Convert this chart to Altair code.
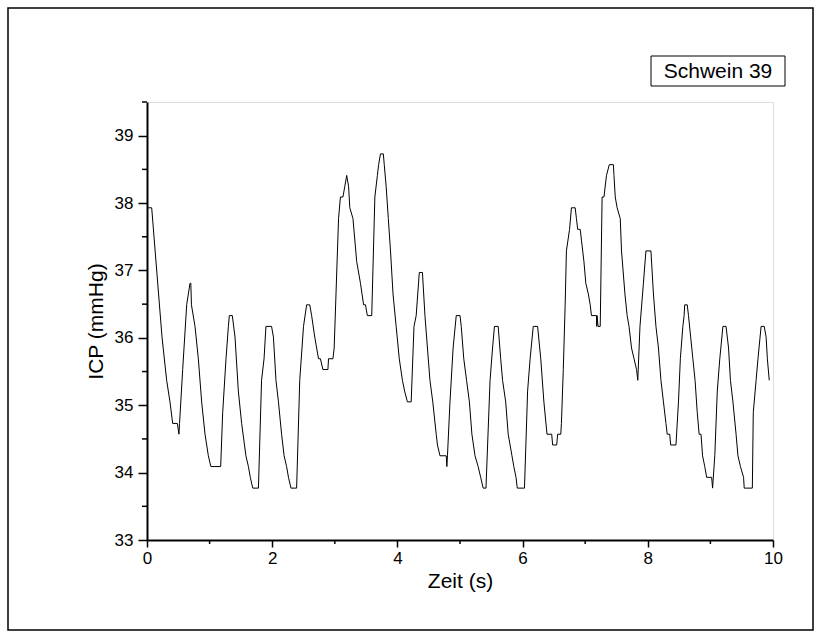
import altair as alt
import pandas as pd

# ---- data ----
time_s = [0.0, 0.075, 0.24, 0.314, 0.367, 0.41, 0.485, 0.51, 0.52, 0.57, 0.634, 0.687, 0.70, 0.71,
          0.767, 0.82, 0.873, 0.927, 0.98, 1.02, 1.177, 1.209, 1.262, 1.30, 1.315, 1.363, 1.406,
          1.459, 1.512, 1.58, 1.62, 1.65, 1.69, 1.78, 1.83, 1.87, 1.90, 1.99, 2.02, 2.06, 2.10,
          2.15, 2.19, 2.23, 2.26, 2.30, 2.39, 2.44, 2.50, 2.55, 2.60, 2.63, 2.68, 2.74, 2.77,
          2.81, 2.89, 2.90, 2.97, 2.99, 3.06, 3.09, 3.13, 3.16, 3.19, 3.22, 3.24, 3.29, 3.35,
          3.41, 3.46, 3.49, 3.52, 3.59, 3.64, 3.68, 3.70, 3.73, 3.775, 3.79, 3.82, 3.855, 3.89,
          3.93, 3.98, 4.03, 4.08, 4.115, 4.16, 4.22, 4.265, 4.30, 4.35, 4.40, 4.44, 4.48, 4.52,
          4.565, 4.62, 4.64, 4.68, 4.78, 4.79, 4.80, 4.84, 4.89, 4.94, 5.00, 5.02, 5.06, 5.105,
          5.15, 5.19, 5.24, 5.29, 5.33, 5.37, 5.415, 5.48, 5.52, 5.55, 5.61, 5.65, 5.68, 5.73,
          5.77, 5.83, 5.86, 5.895, 5.915, 6.03, 6.08, 6.12, 6.17, 6.24, 6.29, 6.34, 6.39, 6.465,
          6.48, 6.545, 6.56, 6.61, 6.62, 6.65, 6.68, 6.70, 6.75, 6.78, 6.84, 6.86, 6.88, 6.92,
          6.94, 6.98, 7.01, 7.05, 7.08, 7.10, 7.18, 7.185, 7.19, 7.205, 7.24, 7.27, 7.30, 7.34,
          7.385, 7.45, 7.46, 7.48, 7.51, 7.56, 7.58, 7.635, 7.67, 7.70, 7.74, 7.78, 7.82, 7.84,
          7.875, 7.93, 7.97, 8.05, 8.09, 8.13, 8.17, 8.21, 8.25, 8.29, 8.31, 8.35, 8.365, 8.45,
          8.49, 8.52, 8.56, 8.58, 8.59, 8.63, 8.65, 8.685, 8.72, 8.755, 8.79, 8.82, 8.85, 8.875,
          8.91, 8.94, 9.02, 9.035, 9.07, 9.11, 9.15, 9.20, 9.25, 9.29, 9.32, 9.36, 9.41, 9.44,
          9.48, 9.53, 9.54, 9.67, 9.685, 9.73, 9.76, 9.81, 9.86, 9.89, 9.91, 9.94]
icp_mmhg = [37.93, 37.93, 36.01, 35.37, 35.05, 34.73, 34.73, 34.57, 34.73, 35.53, 36.49, 36.81, 36.81, 36.49,
            36.17, 35.69, 35.05, 34.57, 34.25, 34.09, 34.09, 34.89, 35.69, 36.17, 36.33, 36.33, 36.01,
            35.21, 34.73, 34.25, 34.09, 33.93, 33.77, 33.77, 35.37, 35.69, 36.17, 36.17, 36.01, 35.37, 35.05,
            34.57, 34.25, 34.09, 33.93, 33.77, 33.77, 35.37, 36.17, 36.49, 36.49, 36.33, 36.01, 35.69, 35.69,
            35.53, 35.53, 35.69, 35.69, 35.85, 37.77, 38.09, 38.09, 38.25, 38.41, 38.25, 37.93, 37.77, 37.13,
            36.81, 36.49, 36.49, 36.33, 36.33, 38.09, 38.41, 38.57, 38.73, 38.73, 38.57, 38.25, 37.77, 37.29,
            36.65, 36.17, 35.69, 35.37, 35.21, 35.05, 35.05, 36.17, 36.33, 36.97, 36.97, 36.33, 35.85, 35.37,
            35.05, 34.57, 34.41, 34.25, 34.25, 34.09, 34.25, 35.05, 35.85, 36.33, 36.33, 36.17, 35.69, 35.37,
            35.05, 34.57, 34.25, 34.09, 33.93, 33.77, 33.77, 35.37, 35.85, 36.17, 36.17, 35.69, 35.37, 35.05,
            34.57, 34.25, 34.09, 33.93, 33.77, 33.77, 35.21, 35.69, 36.17, 36.17, 35.69, 35.05, 34.57, 34.57,
            34.41, 34.41, 34.57, 34.57, 34.73, 35.53, 36.49, 37.29, 37.61, 37.93, 37.93, 37.77, 37.61, 37.61,
            37.45, 37.13, 36.81, 36.65, 36.49, 36.33, 36.33, 36.17, 36.33, 36.17, 36.17, 38.09, 38.09, 38.41,
            38.57, 38.57, 38.41, 38.09, 37.93, 37.77, 37.29, 36.65, 36.33, 36.17, 35.85, 35.69, 35.53, 35.37,
            36.17, 36.81, 37.29, 37.29, 36.65, 36.17, 35.85, 35.37, 35.05, 34.73, 34.57, 34.57, 34.41, 34.41,
            35.05, 35.69, 36.17, 36.33, 36.49, 36.49, 36.33, 36.01, 35.69, 35.37, 34.89, 34.57, 34.57, 34.25,
            34.09, 33.93, 33.93, 33.77, 34.25, 35.21, 35.69, 36.17, 36.17, 35.85, 35.37, 35.05, 34.57, 34.25,
            34.09, 33.93, 33.77, 33.77, 34.89, 35.37, 35.69, 36.17, 36.17, 36.01, 35.69, 35.37]

x_major_ticks = [0, 2, 4, 6, 8, 10]
x_minor_ticks = [1, 3, 5, 7, 9]
y_major_ticks = [33, 34, 35, 36, 37, 38, 39]
y_minor_ticks = [33.5, 34.5, 35.5, 36.5, 37.5, 38.5, 39.5]
legend_label = "Schwein 39"
x_title = "Zeit (s)"
y_title = "ICP (mmHg)"

FONT = "Liberation Sans"
W, H = 626, 438

df = pd.DataFrame({"t": time_s, "v": icp_mmhg})

xscale = alt.Scale(domain=[0, 10], nice=False, zero=False)
yscale = alt.Scale(domain=[33, 39.5], nice=False, zero=False)

line = alt.Chart(df).mark_line(color="black", strokeWidth=1).encode(
    x=alt.X("t:Q", scale=xscale, title=x_title,
            axis=alt.Axis(values=x_major_ticks, format="d", labelFlush=False,
                          tickSize=7, tickWidth=1.5, domainWidth=2,
                          domainColor="black", tickColor="black", labelColor="black",
                          labelFont=FONT, labelFontSize=17, labelPadding=3,
                          titleFont=FONT, titleFontSize=21, titleFontWeight="normal",
                          titleColor="black", titlePadding=4, grid=False)),
    y=alt.Y("v:Q", scale=yscale, title=y_title,
            axis=alt.Axis(values=y_major_ticks, format="d", labelFlush=False,
                          tickSize=9, tickWidth=1.5, domainWidth=2,
                          domainColor="black", tickColor="black", labelColor="black",
                          labelFont=FONT, labelFontSize=17, labelPadding=5,
                          titleFont=FONT, titleFontSize=21, titleFontWeight="normal",
                          titleColor="black", titlePadding=8, grid=False)),
)

xminor = alt.Chart(pd.DataFrame({"t": x_minor_ticks})).mark_rule(
    color="black", strokeWidth=1.5).encode(
    x=alt.X("t:Q", scale=xscale), y=alt.value(H), y2=alt.value(H + 4))

yminor = alt.Chart(pd.DataFrame({"v": y_minor_ticks})).mark_rule(
    color="black", strokeWidth=1.5).encode(
    y=alt.Y("v:Q", scale=yscale), x=alt.value(-5), x2=alt.value(0))

one = pd.DataFrame({"label": [legend_label]})
frame = alt.Chart(one).mark_rect(fill=None, stroke="black", strokeWidth=1.5).encode(
    x=alt.value(-139), x2=alt.value(666), y=alt.value(-94), y2=alt.value(528))

legend_box = alt.Chart(one).mark_rect(fill="white", stroke="black", strokeWidth=1).encode(
    x=alt.value(504), x2=alt.value(638), y=alt.value(-46), y2=alt.value(-16))
legend_text = alt.Chart(one).mark_text(font=FONT, fontSize=21, color="black",
                                       align="center", baseline="middle").encode(
    x=alt.value(571), y=alt.value(-30), text="label:N")

chart = alt.layer(frame, line, xminor, yminor, legend_box, legend_text).properties(
    width=W, height=H,
    autosize=alt.AutoSizeParams(type="none"),
    padding={"left": 147, "top": 102, "right": 48, "bottom": 97},
).configure_view(stroke=None).configure(background="white")

chart.save("out.html", embed_options={"renderer": "svg", "actions": False})
